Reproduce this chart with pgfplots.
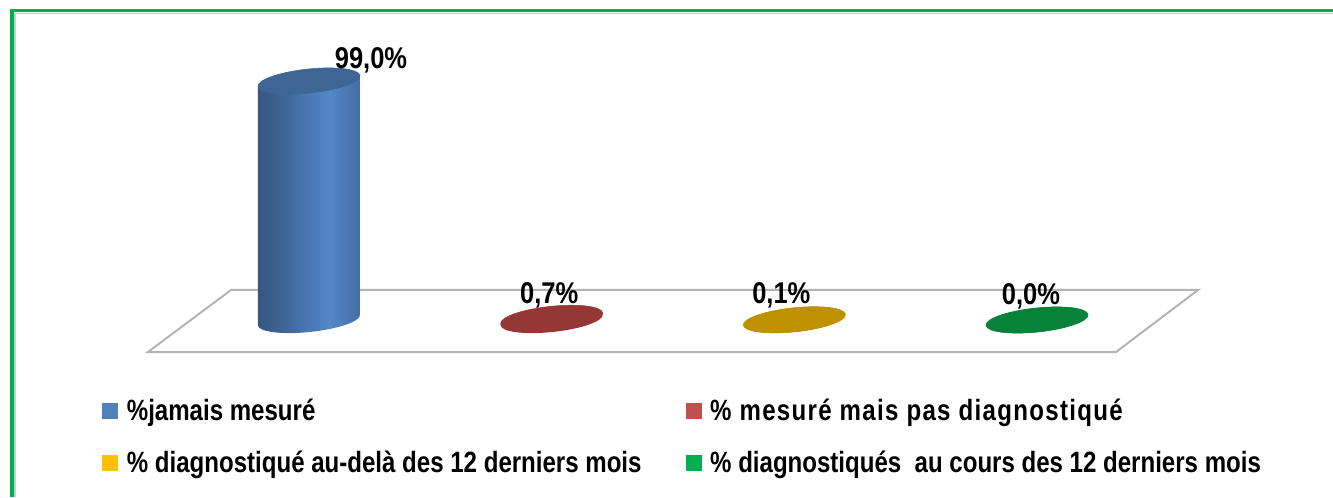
\documentclass[border=0pt]{standalone}
\usepackage{fontspec}
\setmainfont{Liberation Sans}[BoldFont={Liberation Sans Bold}]
\newfontfamily\lblfont{Liberation Sans Bold}[FakeStretch=0.85]
\newfontfamily\keyfont{Liberation Sans Bold}[FakeStretch=0.82]
\usepackage{pgfplots}
\pgfplotsset{compat=1.18}

% 1 px of the reference = 0.75pt
\definecolor{blueTop}{HTML}{3E6594}
\definecolor{blueMid}{HTML}{5486C9}
\definecolor{redTop}{HTML}{953735}
\definecolor{goldTop}{HTML}{BF9000}
\definecolor{greenTop}{HTML}{07823A}
\definecolor{blueKey}{HTML}{4F81BD}
\definecolor{redKey}{HTML}{C0504D}
\definecolor{goldKey}{HTML}{FFC000}
\definecolor{greenKey}{HTML}{00B050}
\definecolor{floorline}{HTML}{B4B4B4}

\pgfdeclarehorizontalshading{cylblue}{100bp}{
  color(0bp)=(blueTop!85!black); color(25bp)=(blueTop!85!black);
  color(38bp)=(blueKey!80!black); color(60bp)=(blueMid);
  color(75bp)=(blueKey!85!black); color(100bp)=(blueTop!85!black)}
\pgfdeclarehorizontalshading{cylred}{100bp}{color(0bp)=(redTop); color(100bp)=(redTop)}
\pgfdeclarehorizontalshading{cylgold}{100bp}{color(0bp)=(goldTop); color(100bp)=(goldTop)}
\pgfdeclarehorizontalshading{cylgreen}{100bp}{color(0bp)=(greenTop); color(100bp)=(greenTop)}

% cylinder: mark sits on the top face, height comes from the data value
\newcommand\declarecyl[3]{%
  \pgfdeclareplotmark{#1}{%
    \pgfmathsetmacro\cylh{\rawy*2.414}%
    \begin{scope}[x=0.75pt,y=0.75pt]
      \path[shading=#2,draw=none]
        (-51,-5.4) -- (-51,-5.4-\cylh) -- (51,5.4-\cylh) -- (51,5.4) -- cycle
        (0,-\cylh) ellipse[x radius=51.3,y radius=12,rotate=6];
      \fill[#3] (0,0) ellipse[x radius=51.3,y radius=12,rotate=6];
    \end{scope}%
  }%
}
\declarecyl{cylA}{cylblue}{blueTop}
\declarecyl{cylB}{cylred}{redTop}
\declarecyl{cylC}{cylgold}{goldTop}
\declarecyl{cylD}{cylgreen}{greenTop}

\pgfplotsset{
  cyl/.style n args={4}{
    only marks, mark=#1,
    visualization depends on={rawy \as \rawy},
    nodes near coords={\pgfmathprintnumber{\pgfplotspointmeta}\%},
    every node near coord/.append style={
      font=\lblfont\fontsize{22.5pt}{24pt}\selectfont, text=black,
      anchor=base, inner sep=0pt, xshift=#2*0.75pt, yshift=#3*0.75pt},
    legend image code/.code={\fill[#4,draw=none] (0pt,-6pt) rectangle (12pt,6pt);\path (16.3pt,0pt);},
  },
}

\begin{document}
\begin{tikzpicture}
\begin{axis}[
    scale only axis,
    width=999.75pt,
    height=372.75pt,
    hide axis,
    xmin=-1.2733, xmax=4.2198,
    ymin=-73.32, ymax=132.56,
    /pgf/number format/.cd, assume math mode=true, use comma, fixed, fixed zerofill, precision=1,
    /pgfplots/.cd,
    legend columns=2,
    legend cell align=left,
    legend style={
      at={(0.0765,0.203)}, anchor=north west, draw=none, fill=none, inner sep=0pt,
      font=\keyfont\fontsize{22pt}{24pt}\selectfont,
      row sep=17.5pt,
      /tikz/every even column/.append style={column sep=31pt},
    },
]
% frame
\addplot[forget plot, color=greenKey, line width=2.4pt] coordinates {(-1.2239,-73.32) (-1.2239,128.13) (4.2198,128.13)};
\addplot[forget plot, color=gray!40, line width=0.8pt] coordinates {(-1.2115,-73.32) (-1.2115,126.9) (4.2198,126.9)};
% floor
\addplot[forget plot, color=floorline, line width=1.5pt] coordinates {(-0.3214,12.43) (3.6635,12.43) (3.3255,-13.26) (-0.6635,-13.26) (-0.3214,12.43)};

\addplot[cyl={cylA}{62}{13}{blueKey}] coordinates {(0,99.0)};
\addlegendentry{\%jamais mesuré}
\addplot[cyl={cylB}{-2.5}{15.3}{redKey}] coordinates {(1,0.7)};
\addlegendentry{\addfontfeature{LetterSpace=4.5}\% mesuré mais pas diagnostiqué}
\addplot[cyl={cylC}{-13}{15.8}{goldKey}] coordinates {(2,0.1)};
\addlegendentry{\% diagnostiqué au-delà des 12 derniers mois}
\addplot[cyl={cylD}{-6}{16}{greenKey}] coordinates {(3,0.0)};
\addlegendentry{\% diagnostiqués\ \ au cours des 12 derniers mois}
\end{axis}
% hide axis leaves the axis box out of the bounding box
\path[use as bounding box] (current axis.south west) rectangle (current axis.north east);
\end{tikzpicture}
\end{document}
